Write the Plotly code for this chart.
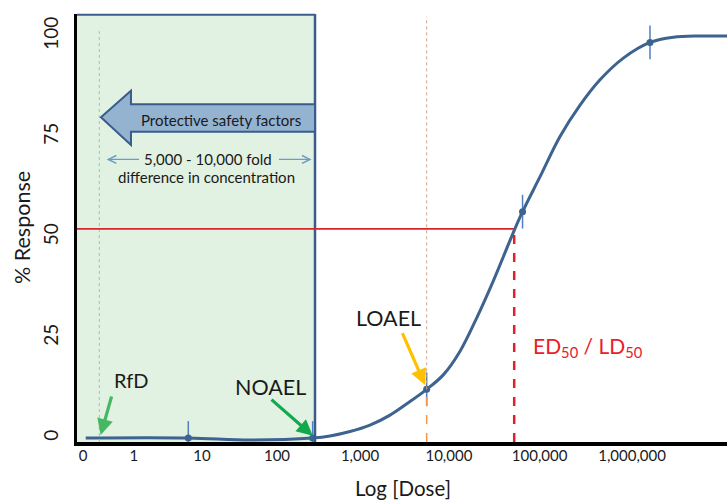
import plotly.graph_objects as go

# ---- data (x in log10-dose axis units, y in % response) ----
curve_x = [-0.024, 1.107, 1.787, 2.476, 2.669, 2.890, 3.110, 3.331, 3.515, 3.735,
           3.918, 4.103, 4.287, 4.470, 4.690, 4.792, 4.985, 5.205, 5.426, 5.646,
           5.903, 6.197, 6.454, 6.749, 7.046]
curve_y = [0.0, 0.0, -0.5, 0.0, 0.5, 1.6, 3.2, 5.7, 8.5, 12.1,
           15.7, 21.6, 29.9, 39.1, 51.1, 56.3, 65.0, 75.0, 82.8, 89.1,
           94.5, 98.4, 99.7, 100.0, 100.0]

point_x = [1.107, 2.478, 3.735, 4.792, 6.197]
point_y = [0.0, 0.0, 12.1, 56.3, 98.4]
point_err = [4.2, 4.2, 4.2, 4.2, 4.2]

tick_vals = [-0.054, 0.508, 1.258, 2.085, 3.0, 3.98, 4.98, 6.0]
tick_text = ["0", "1", "10", "100", "1,000", "10,000", "100,000", "1,000,000"]
y_ticks = [0, 25, 50, 75, 100]

rfd_x = 0.126
noael_x = 2.504
loael_x = 3.735
ed50_x = 4.70
ed50_y = 52.0

X_RANGE = [-0.120, 7.046]
Y_RANGE = [-0.995, 105.47]

FONT = "Lato"
TXT = "#1a1a1a"
CURVE = "#3d6390"
BOXLINE = "#3a5c8c"

fig = go.Figure()

fig.add_trace(go.Scatter(
    x=curve_x, y=curve_y, mode="lines",
    line=dict(color=CURVE, width=3, shape="spline", smoothing=1.0),
    hoverinfo="skip", showlegend=False, cliponaxis=False))

fig.add_trace(go.Scatter(
    x=point_x, y=point_y, mode="markers",
    marker=dict(color=CURVE, size=7),
    error_y=dict(type="data", array=point_err, symmetric=True,
                 color="#4f7fbf", thickness=1.5, width=0),
    showlegend=False, cliponaxis=False))

shapes = []
# green protective region
shapes.append(dict(type="rect", xref="x", yref="y", x0=X_RANGE[0], x1=noael_x,
                   y0=Y_RANGE[0], y1=Y_RANGE[1], fillcolor="#e1f1e2",
                   line=dict(width=0), layer="below"))
shapes.append(dict(type="line", xref="x", yref="paper", x0=noael_x, x1=noael_x,
                   y0=0, y1=1, line=dict(color=BOXLINE, width=2.5)))
shapes.append(dict(type="line", xref="x", yref="paper", x0=X_RANGE[0], x1=noael_x,
                   y0=0.998, y1=0.998, line=dict(color=BOXLINE, width=2)))
# RfD dotted line
shapes.append(dict(type="line", xref="x", yref="y", x0=rfd_x, x1=rfd_x,
                   y0=Y_RANGE[0], y1=101.2,
                   line=dict(color="#8fd19e", width=1, dash="dot")))
# LOAEL lines
shapes.append(dict(type="line", xref="x", yref="y", x0=loael_x, x1=loael_x,
                   y0=point_y[2], y1=104.8,
                   line=dict(color="#c8a48c", width=1, dash="dot")))
shapes.append(dict(type="line", xref="x", yref="y", x0=loael_x, x1=loael_x,
                   y0=Y_RANGE[0], y1=point_y[2],
                   line=dict(color="#f79646", width=1.5, dash="dash")))
# ED50 lines
shapes.append(dict(type="line", xref="x", yref="y", x0=X_RANGE[0], x1=ed50_x,
                   y0=ed50_y, y1=ed50_y, line=dict(color="#d7262e", width=1.8)))
shapes.append(dict(type="line", xref="x", yref="y", x0=ed50_x, x1=ed50_x,
                   y0=Y_RANGE[0], y1=ed50_y,
                   line=dict(color="#e0202a", width=2.5, dash="dash")))
# block arrow "Protective safety factors"
ax_tip, ax_back = 0.144, 0.475
ay_mid, ay_htop, ay_stop, ay_sbot, ay_hbot = 79.78, 86.39, 83.01, 76.19, 72.89
path = (f"M {ax_tip},{ay_mid} L {ax_back},{ay_htop} L {ax_back},{ay_stop} "
        f"L {noael_x},{ay_stop} L {noael_x},{ay_sbot} L {ax_back},{ay_sbot} "
        f"L {ax_back},{ay_hbot} Z")
shapes.append(dict(type="path", xref="x", yref="y", path=path,
                   fillcolor="#93b3d1", line=dict(color=BOXLINE, width=2)))

annotations = []
annotations.append(dict(x=1.464, y=79.1, xref="x", yref="y", text="Protective safety factors",
                        showarrow=False, font=dict(family=FONT, size=15, color=TXT)))
# double arrow
for tail, head in [(0.580, 0.207), (2.090, 2.467)]:
    annotations.append(dict(x=head, y=69.3, ax=tail, ay=69.3, xref="x", yref="y",
                            axref="x", ayref="y", text="", showarrow=True,
                            arrowhead=5, arrowsize=1.2, arrowwidth=1.3,
                            arrowcolor="#6a9bcb", standoff=0, startstandoff=0))
annotations.append(dict(x=1.328, y=69.3, xref="x", yref="y", text="5,000 - 10,000 fold",
                        showarrow=False, font=dict(family=FONT, size=15, color=TXT)))
annotations.append(dict(x=1.310, y=65.0, xref="x", yref="y", text="difference in concentration",
                        showarrow=False, font=dict(family=FONT, size=15, color=TXT)))
# labels with arrows
labels = [("RfD", 0.472, 14.43, (0.266, 10.70), (0.141, 0.75), "#46b864"),
          ("NOAEL", 2.008, 12.76, (2.008, 9.88), (2.479, 0.57), "#12a84c"),
          ("LOAEL", 3.312, 29.78, (3.460, 26.44), (3.717, 13.18), "#ffc000")]
for txt, tx, ty, tail, tip, col in labels:
    size = 20 if txt == "RfD" else 21.5
    annotations.append(dict(x=tx, y=ty, xref="x", yref="y", text=txt, showarrow=False,
                            font=dict(family=FONT, size=size, color=TXT)))
    annotations.append(dict(x=tip[0], y=tip[1], ax=tail[0], ay=tail[1], xref="x", yref="y",
                            axref="x", ayref="y", text="", showarrow=True,
                            arrowhead=2, arrowsize=1.0, arrowwidth=3.2,
                            arrowcolor=col, standoff=0, startstandoff=0))
annotations.append(dict(x=5.517, y=22.71, xref="x", yref="y",
                        text="ED<sub>50</sub> / LD<sub>50</sub>", showarrow=False,
                        font=dict(family=FONT, size=21, color="#e8202a")))
# axis titles
annotations.append(dict(x=0.5008, y=-0.1075, xref="paper", yref="paper", text="Log [Dose]",
                        xanchor="center", yanchor="middle",
                        showarrow=False, font=dict(family=FONT, size=20.5, color=TXT)))
annotations.append(dict(x=-0.0846, y=0.5, xref="paper", yref="paper", text="% Response",
                        xanchor="center", yanchor="middle",
                        textangle=-90, showarrow=False,
                        font=dict(family=FONT, size=21.5, color=TXT)))

fig.update_layout(
    width=727, height=502,
    margin=dict(l=77, r=0, t=14, b=60, autoexpand=False),
    paper_bgcolor="white", plot_bgcolor="white",
    shapes=shapes, annotations=annotations,
    font=dict(family=FONT, color=TXT),
    xaxis=dict(range=X_RANGE, tickvals=tick_vals, ticktext=tick_text,
               showgrid=False, zeroline=False, showline=True, linecolor="black",
               linewidth=3.5, ticks="", tickfont=dict(size=15, color=TXT, family=FONT),
               ticklabelstandoff=-3),
    yaxis=dict(range=Y_RANGE, tickvals=y_ticks, showgrid=False, zeroline=False,
               showline=True, linecolor="black", linewidth=3, ticks="",
               tickangle=-90, tickfont=dict(size=19, color=TXT, family=FONT),
               ticklabelstandoff=8),
)

# remove the browser's default 8px page margin so the figure fills the window
fig.write_html("out.html",
               config={"displayModeBar": False},
               post_script="document.body.style.margin='0';"
                           "document.body.style.overflow='hidden';")
